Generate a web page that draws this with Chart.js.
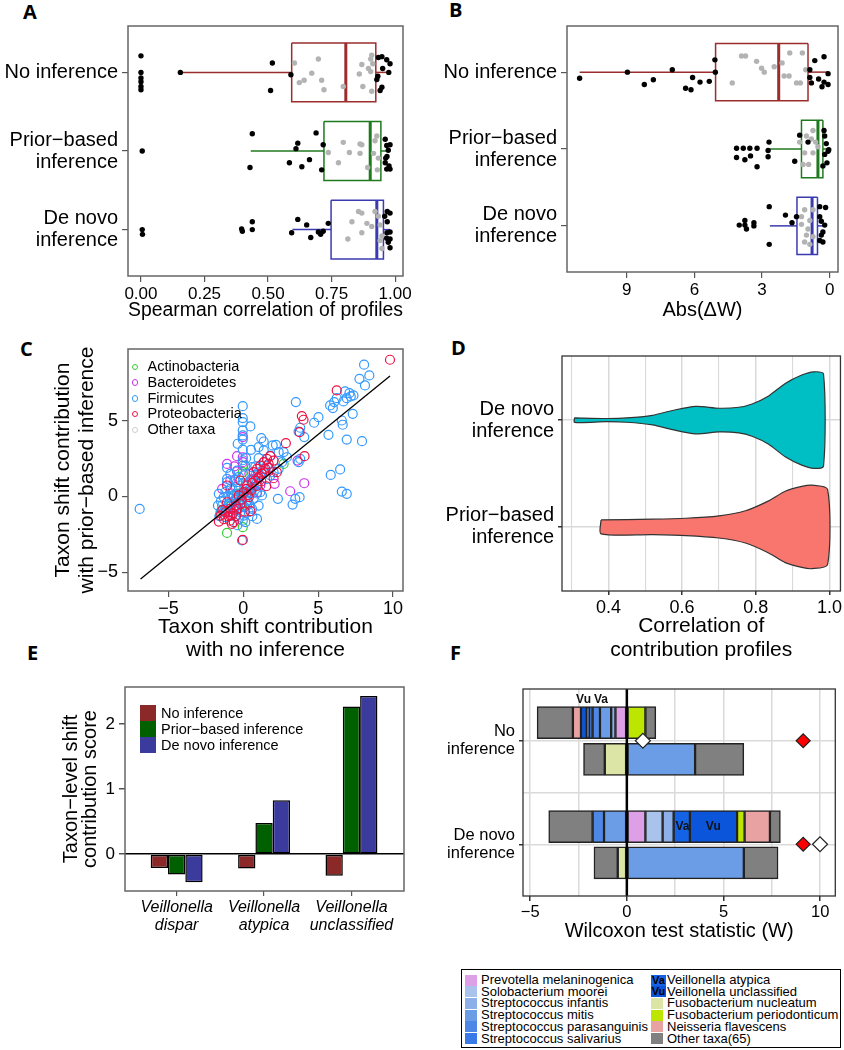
<!DOCTYPE html>
<html>
<head>
<meta charset="utf-8">
<script src="https://cdn.jsdelivr.net/npm/chart.js@4.4.0/dist/chart.umd.min.js"></script>
<style>
body { margin: 0; width: 844px; height: 1050px; background: #fff; position: relative; overflow: hidden; font-family: "Liberation Sans", Arial, sans-serif; }
canvas { position: absolute; }
.letter { position: absolute; font-family: "Open Sans", "Liberation Sans", sans-serif; font-weight: bold; font-size: 20px; line-height: 1; }
.leg { position: absolute; color: #000; }
</style>
</head>
<body>
<div class="letter" style="left:23px;top:2px">A</div>
<div class="letter" style="left:449px;top:0px">B</div>
<div class="letter" style="left:20px;top:339px">C</div>
<div class="letter" style="left:451px;top:338px">D</div>
<div class="letter" style="left:27px;top:643px">E</div>
<div class="letter" style="left:450px;top:643px">F</div>
<script>
// ---------- data ----------
const groupLabels = [['No inference'], ['Prior\u2212based', 'inference'], ['De novo', 'inference']];

// A: Spearman correlation of profiles (per group: no / prior / de novo)
const aTicks = [0, 0.25, 0.5, 0.75, 1];
const aQ1 = [0.593, 0.720, 0.748];
const aMed = [0.806, 0.902, 0.928];
const aQ3 = [0.924, 0.944, 0.954];
const aLo = [0.155, 0.432, 0.596];
const aHi = [0.98, 0.98, 0.98];
const aDarkX = [
  [0, 0, 0, 0, 0, 0, 0.155, 0.517, 0.51, 0.59, 0.934, 0.948, 0.967, 0.98, 0.951, 0.932, 0.928, 0.941, 0.948, 0.975],
  [0.005, 0.438, 0.429, 0.617, 0.610, 0.584, 0.633, 0.663, 0.689, 0.711, 0.717, 0.961, 0.967, 0.980, 0.963, 0.968, 0.976, 0.967, 0.980, 0.961, 0.973],
  [0.005, 0.006, 0.399, 0.396, 0.438, 0.438, 0.617, 0.652, 0.737, 0.593, 0.668, 0.698, 0.707, 0.717, 0.969, 0.98, 0.959, 0.969, 0.98, 0.967, 0.98, 0.973, 0.98, 0.968]
];
const aDarkJ = [
  [-0.21, 0, 0.07, 0.12, 0.18, 0.22, 0, -0.12, 0.23, 0.03, -0.19, -0.20, -0.16, -0.11, -0.05, 0.05, 0.09, 0.23, 0.19, 0],
  [0, -0.22, 0.21, -0.10, -0.03, 0.15, 0.20, 0.11, -0.23, 0.24, -0.08, -0.15, -0.07, -0.08, 0.09, 0.07, 0.19, 0.23, 0.23, 0.15, -0.01],
  [0, 0.06, 0.02, -0.01, -0.10, 0, -0.13, -0.06, -0.08, 0.04, 0.10, 0.03, 0.06, 0.02, -0.23, -0.21, -0.17, -0.10, 0.03, 0.11, 0.12, 0.16, 0.23, 0.04]
];
const aGreyX = [
  [0.604, 0.698, 0.908, 0.904, 0.912, 0.904, 0.672, 0.711, 0.642, 0.623, 0.720, 0.796, 0.859, 0.869, 0.873, 0.908, 0.895],
  [0.796, 0.862, 0.928, 0.921, 0.915, 0.862, 0.82, 0.737, 0.777, 0.892, 0.930, 0.869, 0.934],
  [0.856, 0.869, 0.83, 0.889, 0.934, 0.941, 0.948, 0.869, 0.814, 0.941, 0.948, 0.908, 0.921]
];
const aGreyJ = [
  [-0.12, -0.17, -0.22, -0.17, -0.11, -0.01, 0.01, 0.10, 0.10, 0.13, 0.22, 0.18, 0.02, -0.10, 0.18, 0.24, -0.05],
  [-0.11, -0.09, -0.19, -0.13, 0.03, 0.03, 0.02, 0.02, 0.15, 0.21, 0.24, -0.08, 0.09],
  [-0.23, -0.21, -0.10, -0.08, -0.17, -0.06, 0.08, 0.04, 0.12, 0.14, 0.24, -0.04, -0.23]
];

// B: Abs(delta W)
const bTicks = [0, 3, 6, 9];
const bQ1 = [0.96, 0.30, 0.54];
const bMed = [2.26, 0.52, 0.78];
const bQ3 = [5.06, 1.25, 1.45];
const bLo = [0.07, 0.04, 0.22];
const bHi = [11.09, 2.69, 2.65];
const bDarkX = [
  [11.09, 8.97, 7.82, 8.22, 6.98, 6.08, 6.39, 6.15, 5.75, 5.34, 5.07, 5.09, 0.25, 0.66, 0.88, 0.07, 0.88, 0.49, 0.25, 0.07, 0.81, 0.34],
  [4.13, 3.83, 3.54, 3.22, 4.13, 3.76, 3.51, 3.22, 2.69, 2.73, 2.73, 1.33, 1.55, 0.25, 0.22, 0.15, 0.07, 0.22, 0.12, 0.30, 0.04, 0.96],
  [2.68, 2.68, 4.01, 3.76, 3.36, 3.36, 3.76, 3.69, 1.96, 1.67, 1.47, 0.44, 0.18, 0.44, 0.37, 0.30, 0.44, 0.30, 0.37, 0.22]
];
const bDarkJ = [
  [0.08, 0, 0.10, 0.16, -0.03, 0.07, 0.21, 0.23, 0.13, 0.12, 0, -0.16, -0.20, -0.15, -0.03, 0.02, 0.07, 0.09, 0.13, 0.16, 0.14, 0.19],
  [-0.01, -0.01, -0.01, -0.01, 0.11, 0.14, 0.09, 0.23, -0.09, 0.02, 0.10, -0.18, 0.16, -0.24, -0.17, -0.07, 0.03, 0.07, 0.18, 0.22, 0.01, -0.09],
  [-0.25, 0.24, -0.01, -0.01, -0.04, 0, -0.07, 0.04, -0.14, -0.04, -0.12, -0.25, -0.24, -0.12, -0.06, 0.08, 0.19, 0.21, 0.12, -0.01]
];
const bGreyX = [
  [3.91, 3.73, 3.24, 3.02, 2.90, 2.46, 2.11, 1.77, 1.21, 1.80, 1.47, 1.30, 2.02, 4.32, 1.06],
  [0.74, 1.03, 0.81, 1.11, 0.74, 0.93, 1.18, 0.52, 0.62, 1.33],
  [1.11, 0.74, 1.25, 0.88, 0.96, 1.03, 0.74, 0.88, 1.11, 1.25]
];
const bGreyJ = [
  [-0.21, -0.21, -0.14, -0.05, 0, -0.07, -0.12, -0.25, -0.25, 0.05, 0.14, 0.14, 0.05, 0.14, -0.03],
  [-0.24, -0.17, -0.13, 0.05, 0.05, 0.20, 0.20, -0.03, -0.09, -0.09],
  [-0.21, -0.21, -0.12, -0.07, 0.04, 0.12, 0.14, 0.24, 0.21, -0.02]
];

// C: taxon shift contributions, no inference (x) vs prior-based inference (y)
const cPhyla = ['Actinobacteria', 'Bacteroidetes', 'Firmicutes', 'Proteobacteria', 'Other taxa'];
const cColors = ['#33cc33', '#cc33ee', '#3399ff', '#ee1144', '#cccccc'];
const cXTicks = [-5, 0, 5, 10];
const cYTicks = [-5, 0, 5];
const cFitX = [-6.87, 9.8];
const cFitY = [-5.45, 7.97];
const cActinoX = [-1.09, -0.04, -1.49, 2.69, -0.04, -0.04, -0.42, -0.64, 0.13, 0.58, -0.09, -0.87, -0.5, 0.2];
const cActinoY = [-2.41, -2.03, -0.97, 2.16, 2.05, 1.61, 0.18, 0.07, 0.73, 1.06, -0.6, -0.6, -0.1, 0.2];
const cBactX = [3.13, 4.07, 2.09, 3.62, -0.04, -0.04, -0.04, -0.42, -0.42, -0.6, -0.87, 0.69, 0.24, 0.91, 1.13, -0.64, -1.42, -1.09,
  -0.8, 0.4, -0.3];
const cBactY = [0.35, 0.88, 0.84, 2.38, 3.93, 2.6, 2.27, 2.67, 1.66, 2.0, 1.06, 1.17, 0.51, 0.29, 0.73, -0.82, 0.51, 2.16,
  0.2, 1.5, -0.4];
const cFirmX = [-6.93, 8.07, 8.42, 7.76, 8.13, 6.8, 7.09, 7.36, 7.18, 6.91, 6.69, 6.24, 6.07, 5.8, 5.98, 7.31, 3.51, 5.02, 4.73, 6.58,
  6.64, 3.8, 3.69, 4.07, 5.69, 6.91, 7.93, 5.84, 6.47, 6.58, 6.91, 3.76, 3.47, 3.29, 2.31, 3.69, 3.8, -0.04, -0.04, -0.04,
  -0.04, -0.04, 0.47, -0.04, 1.2, 1.36, 2.18, 1.96, 2.36, 2.69, 1.36, 1.02, 0.51, -0.38, 0.18, -1.09, -1.64, -1.53, 0.91, -0.09,
  -1.09, -0.87, -1.31, -0.64, -0.42, -1.09, -0.2, 0.02, 0.24, 0.69, 1.13, 0.47, -0.42, 0.02, 1.36, 1.58, 0.91, -0.09, 0.24, -0.64,
  -0.98, -0.76, -0.31, 0.13, 0.36, 1.02, 1.24, 1.8, 2.02, 0.13, -0.42, -0.87, -1.09, -0.53, -1.42, -1.2, -0.2, 0.58, 0.36, 0.8,
  1.13, 0.58, 1.58, 2.36, 2.91, 2.58, 1.8, 1.02,
  -1.5, -1.2, -0.9, -0.7, -0.5, -0.3, -0.1, 0.1, 0.3, 0.5, 0.7, 0.9, -1.3, -0.9, -0.6, -0.3, 0.1, 0.4, -1.0, -0.8,
  -0.2, 0.2, 0.5, -0.6, -0.3, 0.0, 1.0, 1.4, 0.8, -1.7, -1.6, -0.4, 0.6, -0.04, -0.04, -0.04];
const cFirmY = [-0.82, 8.72, 8.01, 7.79, 7.35, 6.95, 6.84, 6.69, 6.62, 6.51, 6.29, 6.51, 6.25, 6.03, 5.85, 5.47, 6.25, 5.25, 4.88, 5.03,
  4.75, 4.55, 4.3, 3.93, 4.08, 3.77, 3.66, 1.43, 1.79, 0.33, 0.18, -0.04, -0.15, -0.53, -0.15, 2.27, 2.49, 5.98, 5.19, 4.92,
  4.37, 3.77, 4.64, 4.04, 3.86, 3.64, 3.42, 3.38, 2.94, 2.94, 3.05, 2.54, 3.09, 3.49, 2.54, 1.9, 0.18, -1.04, -1.48, -2.91,
  0.95, 0.51, -0.04, -0.38, -0.6, -0.82, -1.04, -1.26, -0.6, -0.15, 0.29, 0.51, 0.95, 1.39, 1.83, 1.17, 0.95, 0.07, -0.26, 0.07,
  -0.49, -1.26, -1.48, -1.7, -1.04, -0.6, 0.07, 1.39, 1.61, 2.05, 1.72, 1.5, 1.17, 0.62, -0.6, -1.37, -0.26, -0.82, 0.29, 1.39,
  1.39, 1.94, 2.05, 1.83, 2.6, 2.27, 2.71, 3.27,
  -0.3, 0.3, -0.1, 0.4, -0.2, 0.5, -0.4, 0.3, -0.3, 0.2, 0.6, 0.2, -1.0, -1.0, -0.9, -0.8, -0.7, -0.5, 0.0, -0.6,
  0.2, 0.8, 1.1, 1.1, 1.3, 0.9, 1.6, 2.3, 2.0, -0.6, -1.3, -1.9, -1.3, -1.6, 2.4, 3.1];
const cProteoX = [9.8, 6.24, 3.91, 4.02, 3.76, 4.09, 2.84, 1.8, 1.58, 1.36, 1.13, 0.91, 0.69, 2.02, 1.69, 1.47, 1.24, 1.02, 0.8, 2.02,
  2.24, 1.53, 0.47, -1.64, -1.53, -1.2, -0.87, -0.64, -0.42, -1.09, -0.76, -0.87, -0.04, -0.31, 0.02, 0.24, -0.2, -1.09, 0.36,
  0.5, 0.9, 1.2, -0.5, -1.3, -0.2, 0.3, -1.0, -0.7, -0.5, -0.1, 0.2, 0.6, 1.0, 1.4, 1.7, -1.4, -0.9, 0.1];
const cProteoY = [9.05, 7.02, 5.32, 5.08, 4.26, 2.67, 3.53, 2.67, 2.49, 2.27, 2.05, 1.83, 1.61, 2.38, 2.16, 1.83, 1.5, 1.28, 1.06, 1.21,
  1.61, 0.68, -0.97, -1.66, -1.26, -1.04, -1.26, -1.7, -0.82, -0.38, -1.81, -0.82, -2.87, 0.07, 0.29, 0.73, 1.06, 0.73, -0.04,
  0.4, 0.7, 1.0, -1.3, -1.5, -0.5, 0.1, -1.3, -1.1, -0.6, -0.2, 0.5, 0.9, 1.2, 1.6, 1.9, -0.9, -1.6, -1.0];
const cOtherX = [-0.3, 0.4];
const cOtherY = [0.2, 0.5];

// D: correlation of contribution profiles (violin outlines: x grid and half widths)
const dLabels = [['De novo', 'inference'], ['Prior\u2212based', 'inference']];
const dTicks = [0.3, 0.4, 0.5, 0.6, 0.7, 0.8, 0.9, 1.0];
const dDenovoX = [0.308, 0.394, 0.45, 0.52, 0.574, 0.637, 0.70, 0.754, 0.79, 0.835, 0.88, 0.925, 0.957, 0.984];
const dDenovoW = [0.021, 0.015, 0.02, 0.045, 0.09, 0.129, 0.111, 0.12, 0.151, 0.226, 0.343, 0.422, 0.452, 0.431];
const dPriorX = [0.38, 0.52, 0.61, 0.70, 0.772, 0.835, 0.88, 0.925, 0.952, 0.995];
const dPriorW = [0.065, 0.072, 0.081, 0.104, 0.151, 0.244, 0.334, 0.379, 0.391, 0.352];

// E: taxon-level shift contribution score
const eLabels = [['Veillonella', 'dispar'], ['Veillonella', 'atypica'], ['Veillonella', 'unclassified']];
const eSeries = ['No inference', 'Prior\u2212based inference', 'De novo inference'];
const eColors = ['#8b2828', '#006000', '#3b3b9e'];
const eNo = [-0.21, -0.22, -0.33];
const ePrior = [-0.31, 0.48, 2.27];
const eDenovo = [-0.43, 0.83, 2.43];
const eTicks = [0, 1, 2];

// F: Wilcoxon test statistic decomposition (rows: no inf. taxa / no inf. genus / de novo taxa / de novo genus)
const fLabels = [['No', 'inference'], ['De novo', 'inference']];
const fRows = [0.825, 1.18, 1.83, 2.18];
const fTaxa = ['Prevotella melaninogenica', 'Solobacterium moorei', 'Streptococcus infantis', 'Streptococcus mitis',
  'Streptococcus parasanguinis', 'Streptococcus salivarius', 'Veillonella atypica', 'Veillonella unclassified',
  'Fusobacterium nucleatum', 'Fusobacterium periodonticum', 'Neisseria flavescens', 'Other taxa(65)'];
const fShort = ['', '', '', '', '', '', 'Va', 'Vu', '', '', '', ''];
const fColors = ['#dda0e6', '#a9c3ec', '#8db0ea', '#6b9ce6', '#4d88e6', '#3a7ae6', '#1463e6', '#0a55da',
  '#dce5a5', '#bce600', '#e8a2a2', '#808080'];
const fValues = [
  [-0.59, null, 0.96, null],
  [null, null, 0.89, null],
  [-0.22, null, 0.57, null],
  [-0.58, 3.53, -1.18, 6.05],
  [-0.38, null, -0.59, null],
  [-0.18, null, null, null],
  [-0.12, null, 0.84, null],
  [-0.30, null, 2.44, null],
  [null, -1.14, null, -0.47],
  [0.96, null, 0.39, null],
  [-0.42, null, 1.31, null]
];
const fOtherNeg = [-1.85, -1.10, -2.27, -1.23];
const fOtherPos = [0.54, 2.52, 0.54, 1.77];
const fObservedX = [0.83, 9.99];
const fExpectedX = [9.12, 9.12];
const fXTicks = [-5, -2.5, 0, 2.5, 5, 7.5, 10];
const fNotes = [{t: 'Vu', x: -2.24, y: 0.6}, {t: 'Va', x: -1.34, y: 0.6}, {t: 'Va', x: 2.88, y: 1.83}, {t: 'Vu', x: 4.47, y: 1.83}];

// ---------- helpers ----------
Chart.defaults.font.family = '"Liberation Sans", Arial, sans-serif';
Chart.defaults.color = '#000';
Chart.defaults.animation = false;

function place(left, top, w, h) {
  const c = document.createElement('canvas');
  c.width = w; c.height = h;
  c.style.left = left + 'px'; c.style.top = top + 'px';
  c.style.width = w + 'px'; c.style.height = h + 'px';
  document.body.appendChild(c);
  return c;
}
function ticksAt(vals) { return function(s) { s.ticks = vals.map(v => ({value: v})); }; }
function num(v) { return (v < 0 ? '\u2212' : '') + Math.abs(v); }
function tv(ctx) { return ctx.tick ? ctx.tick.value : NaN; }

const frame = {
  id: 'frame',
  afterDatasetsDraw(chart, args, opts) {
    const a = chart.chartArea, c = chart.ctx;
    c.save();
    c.strokeStyle = opts.color || '#666';
    c.lineWidth = opts.width || 1.5;
    c.strokeRect(a.left, a.top, a.right - a.left, a.bottom - a.top);
    c.restore();
  }
};
const noPlug = {legend: {display: false}, tooltip: {enabled: false}};

const boxColors = ['#9b2d2d', '#1f7a1f', '#3b3bb0'];
function boxSets(q1, med, q3, lo, hi, half) {
  const sets = [];
  for (let g = 0; g < 3; g++) {
    const c = g + 1, col = boxColors[g];
    const line = (pts, w) => ({type: 'scatter', data: pts, showLine: true, borderColor: col, borderWidth: w,
      pointRadius: 0, fill: false, tension: 0});
    sets.push(line([{x: q1[g], y: c - half}, {x: q3[g], y: c - half}, {x: q3[g], y: c + half},
      {x: q1[g], y: c + half}, {x: q1[g], y: c - half}], 1.5));
    sets.push(line([{x: med[g], y: c - half}, {x: med[g], y: c + half}], 3));
    sets.push(line([{x: lo[g], y: c}, {x: q1[g], y: c}], 1.5));
    sets.push(line([{x: q3[g], y: c}, {x: hi[g], y: c}], 1.5));
  }
  return sets;
}
function dots(xs, js, color) {
  const pts = [];
  for (let g = 0; g < 3; g++) xs[g].forEach((x, i) => pts.push({x: x, y: g + 1 + js[g][i]}));
  return {type: 'scatter', data: pts, pointRadius: 2.7, pointBackgroundColor: color, pointBorderWidth: 0,
    pointBorderColor: color, showLine: false};
}
function boxAxes(xMin, xMax, xTicks, xFmt, title, xH, yW, reverseX) {
  return {
    x: {type: 'linear', min: xMin, max: xMax, reverse: reverseX, afterBuildTicks: ticksAt(xTicks),
      afterFit: s => { s.height = xH; },
      grid: {drawOnChartArea: false, tickLength: 6, color: '#555', lineWidth: 1.2}, border: {display: false},
      ticks: {callback: xFmt, font: {size: 17}, padding: 2, maxRotation: 0, autoSkip: false},
      title: {display: true, text: title, font: {size: 20}, padding: 0}},
    y: {type: 'linear', reverse: true, min: 0.41, max: 3.59, afterBuildTicks: ticksAt([1, 2, 3]),
      afterFit: s => { s.width = yW; },
      grid: {drawOnChartArea: false, tickLength: 6, color: '#555', lineWidth: 1.2}, border: {display: false},
      ticks: {callback: (v, i) => groupLabels[i], font: {size: 20, lineHeight: 1.1}, padding: 4, autoSkip: false}}
  };
}

// ---------- A ----------
new Chart(place(0, 0, 420, 322), {
  type: 'scatter',
  data: {datasets: [dots(aDarkX, aDarkJ, '#000'), dots(aGreyX, aGreyJ, '#b3b3b3')]
    .concat(boxSets(aQ1, aMed, aQ3, aLo, aHi, 0.375))},
  options: {responsive: false, devicePixelRatio: 1, layout: {padding: {top: 13, right: 17, left: 0, bottom: 0}},
    plugins: Object.assign({frame: {color: '#666'}}, noPlug),
    scales: boxAxes(-0.051, 1.031, aTicks, v => v.toFixed(2), 'Spearman correlation of profiles', 46, 128, false)},
  plugins: [frame]
});

// ---------- B ----------
const bScales = boxAxes(-0.37, 11.65, bTicks, v => String(v), 'Abs(\u0394W)', 50, 147, true);
bScales.y.min = 0.4; bScales.y.max = 3.6;
new Chart(place(420, 0, 424, 322), {
  type: 'scatter',
  data: {datasets: [dots(bDarkX, bDarkJ, '#000'), dots(bGreyX, bGreyJ, '#b3b3b3')]
    .concat(boxSets(bQ1, bMed, bQ3, bLo, bHi, 0.373))},
  options: {responsive: false, devicePixelRatio: 1, layout: {padding: {top: 12, right: 6, left: 0, bottom: 0}},
    plugins: Object.assign({frame: {color: '#666'}}, noPlug),
    scales: bScales},
  plugins: [frame]
});

// ---------- C ----------
function xy(xs, ys) { return xs.map((x, i) => ({x: x, y: ys[i]})); }
function ring(xs, ys, color) {
  return {type: 'scatter', data: xy(xs, ys), pointRadius: 4.5, pointBorderWidth: 1.2,
    pointBorderColor: color, pointBackgroundColor: 'rgba(0,0,0,0)'};
}
new Chart(place(0, 330, 420, 332), {
  type: 'scatter',
  data: {datasets: [
    {type: 'scatter', data: xy(cFitX, cFitY), showLine: true, borderColor: '#000', borderWidth: 1.3, pointRadius: 0},
    ring(cProteoX, cProteoY, cColors[3]),
    ring(cFirmX, cFirmY, cColors[2]),
    ring(cBactX, cBactY, cColors[1]),
    ring(cActinoX, cActinoY, cColors[0]),
    ring(cOtherX, cOtherY, cColors[4])
  ]},
  options: {responsive: false, devicePixelRatio: 1, layout: {padding: {top: 19, right: 17, left: 0, bottom: 0}},
    plugins: Object.assign({frame: {color: '#666'}}, noPlug),
    scales: {
      x: {type: 'linear', min: -7.71, max: 10.67, afterBuildTicks: ticksAt(cXTicks), afterFit: s => { s.height = 71; },
        grid: {drawOnChartArea: false, tickLength: 6, color: '#555', lineWidth: 1.2}, border: {display: false},
        ticks: {callback: num, font: {size: 18}, padding: 1, maxRotation: 0, autoSkip: false},
        title: {display: true, text: ['Taxon shift contribution', 'with no inference'], font: {size: 21, lineHeight: 1.12}, padding: 0}},
      y: {type: 'linear', min: -6.25, max: 9.76, afterBuildTicks: ticksAt(cYTicks), afterFit: s => { s.width = 128; },
        grid: {drawOnChartArea: false, tickLength: 6, color: '#555', lineWidth: 1.2}, border: {display: false},
        ticks: {callback: num, font: {size: 18}, padding: 4, autoSkip: false},
        title: {display: true, text: ['Taxon shift contribution', 'with prior\u2212based inference'],
          font: {size: 21, lineHeight: 1.15}, padding: {top: 51, bottom: 0}}}
    }},
  plugins: [frame]
});

// C legend (inside the plot)
(function() {
  const box = document.createElement('div');
  box.className = 'leg';
  box.style.cssText = 'left:130px;top:359px;font-size:14.5px;line-height:15.8px;';
  cPhyla.forEach((name, i) => {
    const row = document.createElement('div');
    row.style.cssText = 'position:relative;height:15.8px;padding-left:17.5px;white-space:nowrap;';
    row.innerHTML = '<span style="position:absolute;left:1.5px;top:4.5px;width:4.5px;height:4.5px;border-radius:50%;border:1.2px solid ' +
      cColors[i] + '"></span>' + name;
    box.appendChild(row);
  });
  document.body.appendChild(box);
})();

// ---------- D ----------
function violin(xs, ws, c, fillColor) {
  const pts = xs.map((x, i) => ({x: x, y: c - ws[i]}));
  for (let i = xs.length - 1; i >= 0; i--) pts.push({x: xs[i], y: c + ws[i]});
  pts.push({x: xs[0], y: c - ws[0]});
  return {type: 'scatter', data: pts, showLine: true, fill: 'shape', backgroundColor: fillColor,
    borderColor: '#333', borderWidth: 1.2, pointRadius: 0, tension: 0.25};
}
const major = v => Math.round(v * 10) % 2 === 0;
new Chart(place(420, 330, 424, 332), {
  type: 'scatter',
  data: {datasets: [violin(dDenovoX, dDenovoW, 1, '#00bfc4'), violin(dPriorX, dPriorW, 2, '#f8766d')]},
  options: {responsive: false, devicePixelRatio: 1, layout: {padding: {top: 19, right: 2, left: 0, bottom: 0}},
    plugins: Object.assign({frame: {color: '#333', width: 1.3}}, noPlug),
    scales: {
      x: {type: 'linear', min: 0.274, max: 1.03, afterBuildTicks: ticksAt(dTicks), afterFit: s => { s.height = 71; },
        grid: {color: '#d9d9d9', lineWidth: ctx => major(tv(ctx)) ? 1.5 : 1.1, tickLength: 4,
          tickColor: ctx => major(tv(ctx)) ? '#333' : 'rgba(0,0,0,0)'}, border: {display: false},
        ticks: {callback: v => major(v) ? v.toFixed(1) : '', font: {size: 18}, padding: 2, maxRotation: 0, autoSkip: false},
        title: {display: true, text: ['Correlation of', 'contribution profiles'], font: {size: 21, lineHeight: 1.15}, padding: 0}},
      y: {type: 'linear', reverse: true, min: 0.4, max: 2.6, afterBuildTicks: ticksAt([1, 2]), afterFit: s => { s.width = 142; },
        grid: {color: '#d9d9d9', lineWidth: 1.5, tickLength: 4, tickColor: '#333'}, border: {display: false},
        ticks: {callback: (v, i) => dLabels[i], font: {size: 20, lineHeight: 1.1}, padding: 4, autoSkip: false}}
    }},
  plugins: [frame]
});

// ---------- E ----------
function bars(vals, i) {
  return {label: eSeries[i], data: vals.map((v, k) => ({x: k, y: v})), backgroundColor: eColors[i],
    borderColor: '#000', borderWidth: 1.5, borderSkipped: false, categoryPercentage: 0.594, barPercentage: 1};
}
new Chart(place(0, 662, 420, 278), {
  type: 'bar',
  data: {datasets: [bars(eNo, 0), bars(ePrior, 1), bars(eDenovo, 2)]},
  options: {responsive: false, devicePixelRatio: 1, layout: {padding: {top: 25, right: 16, left: 0, bottom: 0}},
    plugins: Object.assign({frame: {color: '#666'}}, noPlug),
    scales: {
      x: {type: 'linear', min: -0.591, max: 2.601, offset: false, afterBuildTicks: ticksAt(eTicks), afterFit: s => { s.height = 49; },
        grid: {offset: false, drawOnChartArea: false, tickLength: 5, color: '#555', lineWidth: 1.2}, border: {display: false},
        ticks: {callback: (v, i) => eLabels[i], font: {size: 16, style: 'italic', lineHeight: 1.15}, padding: 2, maxRotation: 0, autoSkip: false}},
      y: {type: 'linear', min: -0.565, max: 2.57, offset: false, afterBuildTicks: ticksAt(eTicks), afterFit: s => { s.width = 125; },
        grid: {offset: false, color: ctx => tv(ctx) === 0 ? '#000' : 'rgba(0,0,0,0)', lineWidth: 1.5, tickColor: '#555', tickLength: 6},
        border: {display: false},
        ticks: {callback: v => String(v), font: {size: 17}, padding: 4, autoSkip: false},
        title: {display: true, text: ['Taxon\u2212level shift', 'contribution score'], font: {size: 20, lineHeight: 0.95},
          padding: {top: 62, bottom: 0}}}
    }},
  plugins: [frame]
});

// E legend (inside the plot)
(function() {
  const box = document.createElement('div');
  box.className = 'leg';
  box.style.cssText = 'left:140px;top:705px;font-size:14.5px;line-height:16px;';
  eSeries.forEach((name, i) => {
    const row = document.createElement('div');
    row.style.cssText = 'position:relative;height:16px;padding-left:21px;white-space:nowrap;';
    row.innerHTML = '<span style="position:absolute;left:0;top:0;width:16px;height:15.5px;background:' + eColors[i] + '"></span>' + name;
    box.appendChild(row);
  });
  document.body.appendChild(box);
})();

// ---------- F ----------
const fNotePlugin = {
  id: 'notes',
  afterDatasetsDraw(chart) {
    const c = chart.ctx, xs = chart.scales.x, ys = chart.scales.y;
    c.save();
    c.font = 'bold 12px "Liberation Sans", Arial, sans-serif';
    c.fillStyle = '#111';
    c.textAlign = 'center';
    c.textBaseline = 'middle';
    fNotes.forEach(n => c.fillText(n.t, xs.getPixelForValue(n.x), ys.getPixelForValue(n.y)));
    c.restore();
  }
};
function fBar(vals, color, label) {
  const pts = [];
  vals.forEach((v, k) => { if (v !== null) pts.push({x: v, y: fRows[k]}); });
  return {type: 'bar', label: label, indexAxis: 'y', stack: 'f', data: pts, backgroundColor: color,
    borderColor: '#222', borderWidth: 1.5, borderSkipped: false, barThickness: 32};
}
const fSets = [
  {type: 'scatter', data: [{x: 0, y: 0.5}, {x: 0, y: 2.5}], showLine: true, borderColor: '#000', borderWidth: 2.5, pointRadius: 0},
  {type: 'scatter', data: [{x: fObservedX[0], y: 1}, {x: fObservedX[1], y: 2}], pointStyle: 'rectRot', pointRadius: 7.5,
    pointBackgroundColor: '#fff', pointBorderColor: '#222', pointBorderWidth: 1.2},
  {type: 'scatter', data: [{x: fExpectedX[0], y: 1}, {x: fExpectedX[1], y: 2}], pointStyle: 'rectRot', pointRadius: 7,
    pointBackgroundColor: '#ff0000', pointBorderColor: '#222', pointBorderWidth: 1.2}
];
fValues.forEach((vals, i) => fSets.push(fBar(vals, fColors[i], fTaxa[i])));
fSets.push(fBar(fOtherNeg, fColors[11], fTaxa[11]));
fSets.push(fBar(fOtherPos, fColors[11], fTaxa[11]));
const fMajor = v => v % 5 === 0;
new Chart(place(420, 662, 424, 281), {
  type: 'bar',
  data: {datasets: fSets},
  options: {responsive: false, devicePixelRatio: 1, layout: {padding: {top: 27, right: 1, left: 0, bottom: 0}},
    plugins: Object.assign({frame: {color: '#333', width: 1.3}}, noPlug),
    scales: {
      x: {type: 'linear', min: -5.37, max: 10.78, offset: false, afterBuildTicks: ticksAt(fXTicks), afterFit: s => { s.height = 47; },
        grid: {offset: false, color: '#dadada', lineWidth: 1.5, tickLength: 5,
          tickColor: ctx => fMajor(tv(ctx)) ? '#333' : 'rgba(0,0,0,0)'}, border: {display: false},
        ticks: {callback: v => fMajor(v) ? num(v) : '', font: {size: 16.5}, padding: 2, maxRotation: 0, autoSkip: false},
        title: {display: true, text: 'Wilcoxon test statistic (W)', font: {size: 20}, padding: 0}},
      y: {type: 'linear', reverse: true, min: 0.5, max: 2.5, offset: false, afterBuildTicks: ticksAt([1, 1.5, 2]),
        afterFit: s => { s.width = 103; },
        grid: {offset: false, color: '#dadada', lineWidth: 1.5, tickLength: 4,
          tickColor: ctx => tv(ctx) === 1.5 ? 'rgba(0,0,0,0)' : '#333'}, border: {display: false},
        ticks: {callback: v => v === 1 ? fLabels[0] : (v === 2 ? fLabels[1] : ''), font: {size: 16.5, lineHeight: 1.1},
          padding: 4, autoSkip: false}}
    }},
  plugins: [frame, fNotePlugin]
});

// F legend box
(function() {
  const box = document.createElement('div');
  box.className = 'leg';
  box.style.cssText = 'left:461px;top:969px;width:378px;height:77px;border:1.5px solid #000;font-size:13px;line-height:11.7px;';
  fTaxa.forEach((name, k) => {
    const col = k < 6 ? 0 : 1, row = k % 6;
    const left = col ? 189 : 3;
    const item = document.createElement('div');
    item.style.cssText = 'position:absolute;white-space:nowrap;left:' + (left + 16) + 'px;top:' + (4 + row * 11.7) + 'px;';
    item.textContent = name;
    const sq = document.createElement('div');
    sq.style.cssText = 'position:absolute;left:' + left + 'px;top:' + (4.5 + row * 11.7) + 'px;width:' + (fShort[k] ? 15 : 12) +
      'px;height:11px;background:' + fColors[k] + ';font-weight:bold;font-size:11px;line-height:11px;color:#000;text-align:center;';
    sq.textContent = fShort[k];
    box.appendChild(sq);
    box.appendChild(item);
  });
  document.body.appendChild(box);
})();
</script>
</body>
</html>
